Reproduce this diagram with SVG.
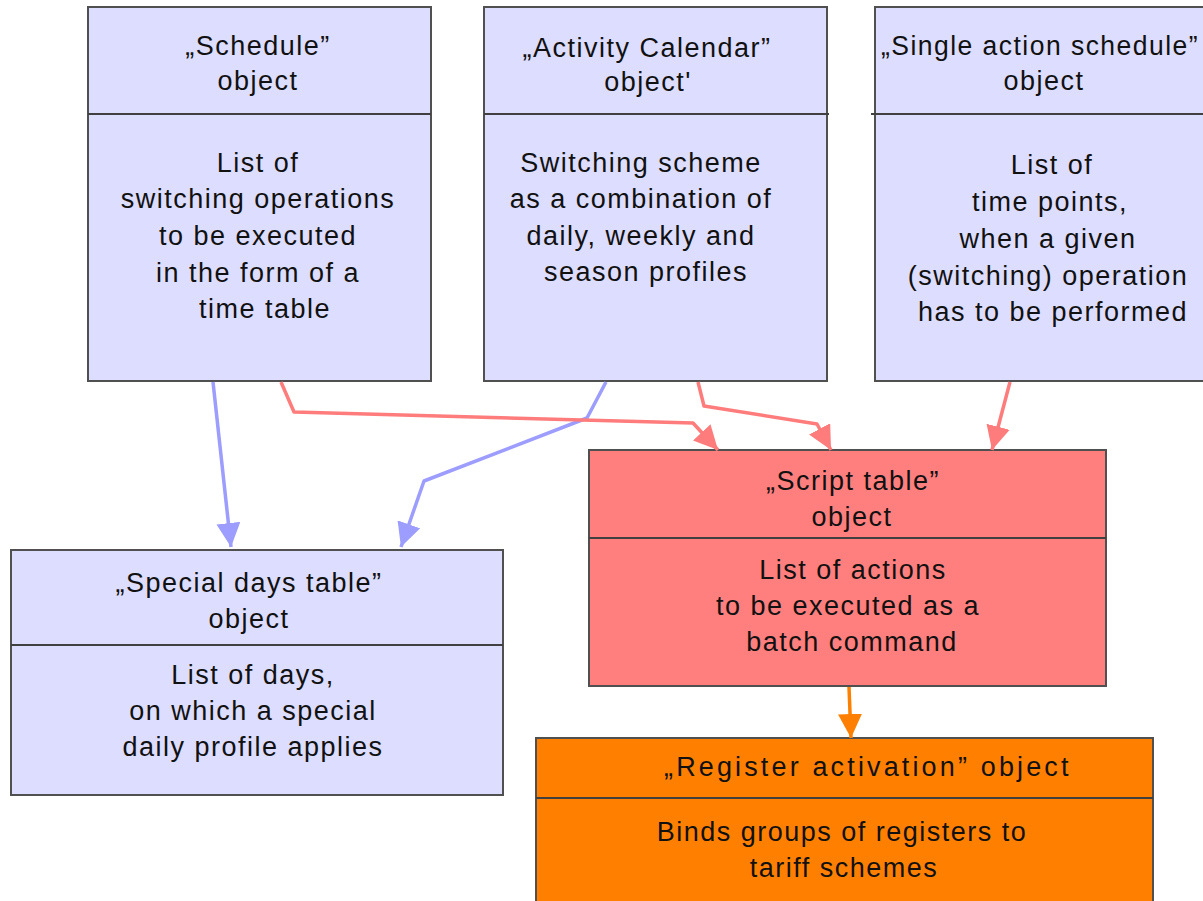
<svg xmlns="http://www.w3.org/2000/svg" width="1203" height="901" viewBox="0 0 1203 901">
<style>
.box{stroke:#505050;stroke-width:2}
.lav{fill:#DDDDFF}
.red{fill:#FF7F7F}
.org{fill:#FF8000}
.div{stroke:#404040;stroke-width:2}
text{font-family:"Liberation Sans",Arial,sans-serif;font-size:27px;letter-spacing:1.5px;fill:#111;text-anchor:middle}
.c{fill:none;stroke-width:3.5;stroke-linejoin:round}
.cb{stroke:#9D9DFF}
.cr{stroke:#FF7C7C}
.co{stroke:#FF8000}
</style>
<defs>
<marker id="ab" markerUnits="userSpaceOnUse" markerWidth="24" markerHeight="24" viewBox="0 0 20 20" refX="20" refY="10" orient="auto"><path d="M0,0 L20,10 L0,20 Z" fill="#9D9DFF"/></marker>
<marker id="ar" markerUnits="userSpaceOnUse" markerWidth="24" markerHeight="24" viewBox="0 0 20 20" refX="20" refY="10" orient="auto"><path d="M0,0 L20,10 L0,20 Z" fill="#FF7C7C"/></marker>
<marker id="ao" markerUnits="userSpaceOnUse" markerWidth="24" markerHeight="24" viewBox="0 0 20 20" refX="20" refY="10" orient="auto"><path d="M0,0 L20,10 L0,20 Z" fill="#FF8000"/></marker>
</defs>

<g id="schedule">
<rect class="box lav" x="88" y="7" width="343" height="374"/>
<line class="div" x1="88" y1="114" x2="431" y2="114"/>
<text x="258" y="55">„Schedule”</text>
<text x="258" y="90">object</text>
<text x="258" y="172">List of</text>
<text x="258" y="208">switching operations</text>
<text x="258" y="245">to be executed</text>
<text x="258" y="282">in the form of a</text>
<text x="265" y="318">time table</text>
</g>

<g id="activity-calendar">
<rect class="box lav" x="484" y="7" width="343" height="374"/>
<line class="div" x1="484" y1="114" x2="829" y2="114"/>
<text x="647" y="57">„Activity Calendar”</text>
<text x="648" y="91">object'</text>
<text x="641" y="172">Switching scheme</text>
<text x="641" y="208">as a combination of</text>
<text x="641" y="245">daily, weekly and</text>
<text x="646" y="281">season profiles</text>
</g>

<g id="single-action-schedule">
<rect class="box lav" x="875" y="7" width="340" height="374"/>
<line class="div" x1="871" y1="114" x2="1203" y2="114"/>
<text x="881" y="55" style="text-anchor:start" textLength="318" lengthAdjust="spacingAndGlyphs">„Single action schedule”</text>
<text x="1044" y="90">object</text>
<text x="1052" y="174">List of</text>
<text x="1050" y="211">time points,</text>
<text x="1048" y="248">when a given</text>
<text x="1048" y="285">(switching) operation</text>
<text x="1053" y="321">has to be performed</text>
</g>

<g id="script-table">
<rect class="box red" x="589" y="450" width="517" height="236"/>
<line class="div" x1="589" y1="538" x2="1106" y2="538"/>
<text x="853" y="490">„Script table”</text>
<text x="852" y="526">object</text>
<text x="853" y="579">List of actions</text>
<text x="848" y="615">to be executed as a</text>
<text x="852" y="651">batch command</text>
</g>

<g id="special-days-table">
<rect class="box lav" x="11" y="550" width="492" height="245"/>
<line class="div" x1="11" y1="645" x2="503" y2="645"/>
<text x="249" y="592">„Special days table”</text>
<text x="249" y="628">object</text>
<text x="253" y="684">List of days,</text>
<text x="253" y="720">on which a special</text>
<text x="253" y="756">daily profile applies</text>
</g>

<g id="register-activation">
<rect class="box org" x="536" y="738" width="617" height="175"/>
<line class="div" x1="536" y1="798" x2="1153" y2="798"/>
<text x="867" y="776" textLength="406" lengthAdjust="spacing">„Register activation” object</text>
<text x="842" y="841">Binds groups of registers to</text>
<text x="844" y="877">tariff schemes</text>
</g>

<g id="connectors">
<polyline class="c cb" marker-end="url(#ab)" points="213,382 231,547"/>
<polyline class="c cb" marker-end="url(#ab)" points="606,382 587,418 424,481 401,547"/>
<polyline class="c cr" marker-end="url(#ar)" points="281,382 294,412 693,423 718,450"/>
<polyline class="c cr" marker-end="url(#ar)" points="698,382 704,406 817,424 831,450"/>
<polyline class="c cr" marker-end="url(#ar)" points="1010,382 992,450"/>
<polyline class="c co" marker-end="url(#ao)" points="849,687 851,738"/>
</g>
</svg>
